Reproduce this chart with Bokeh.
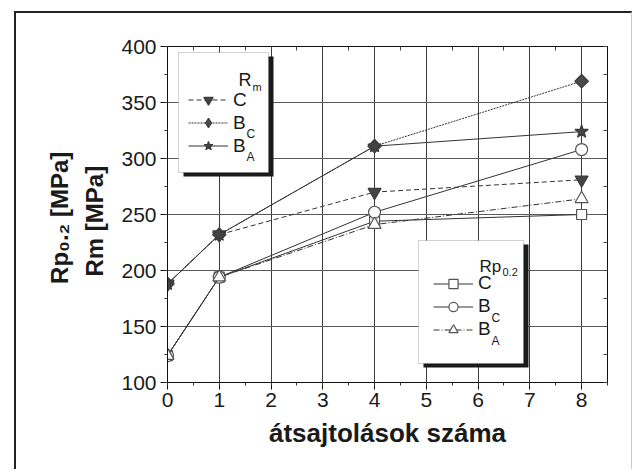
import math
import numpy as np
from bokeh.plotting import figure
from bokeh.models import (Range1d, SingleIntervalTicker, FixedTicker, LinearAxis, Legend,
                          LegendItem, Label, BoxAnnotation, InlineStyleSheet)
from bokeh.embed import file_html
from bokeh.resources import INLINE

# ---- data ----
passes = [0, 1, 4, 8]
rm_c = [188, 232, 270, 281]
rm_bc = [188, 232, 311, 369]
rm_ba = [188, 232, 311, 324]
rp_c = [124, 194, 244, 250]
rp_bc = [124, 194, 252, 308]
rp_ba = [124, 194, 241, 264]

x_title = "átsajtolások száma"
y_title_rm = "Rm [MPa]"
y_title_rp = "Rp\u2080.\u2082 [MPa]"
rm_title = ("R", "m")
rp_title = ("Rp", "0.2")
series_labels = ["C", "B", "B"]
series_subs = [None, "C", "A"]

X_MIN, X_MAX = 0, 8.5
Y_MIN, Y_MAX = 100, 400
x_minor = list(np.arange(X_MIN, X_MAX + 0.01, 0.5))
y_minor = list(np.arange(Y_MIN, Y_MAX + 0.01, 25))

FONT = "Liberation Sans"
INK = "#1a1a1a"
LINE = "#333333"

p = figure(width=621, height=456, output_backend="svg", toolbar_location=None,
           x_range=Range1d(X_MIN, X_MAX), y_range=Range1d(Y_MIN, Y_MAX),
           min_border_left=167, min_border_right=14, min_border_top=46, min_border_bottom=74,
           background_fill_color="white", border_fill_color="white")

p.outline_line_color = "#111111"
p.outline_line_width = 1

# axes
xax = p.xaxis[0]
yax = p.yaxis[0]
xax.ticker = SingleIntervalTicker(interval=1, num_minor_ticks=2)
yax.ticker = SingleIntervalTicker(interval=50, num_minor_ticks=2)
for ax in (xax, yax):
    ax.axis_line_color = "#111111"
    ax.major_tick_line_color = "#111111"
    ax.minor_tick_line_color = "#333333"
    ax.major_tick_out = 7
    ax.major_tick_in = 0
    ax.minor_tick_out = 3
    ax.minor_tick_in = 0
    ax.major_label_text_font = FONT
    ax.major_label_text_font_size = "21px"
    ax.major_label_text_color = INK
    ax.axis_label_text_font = FONT
    ax.axis_label_text_font_style = "bold"
    ax.axis_label_text_color = INK
xax.major_label_standoff = 3
yax.major_label_standoff = 4

xax.axis_label = x_title
xax.axis_label_text_font_size = "26px"
xax.axis_label_standoff = 8

yax.axis_label = y_title_rm + "\u00a0\u00a0"
yax.axis_label_text_font_size = "24px"
yax.axis_label_standoff = 10

outer_y = LinearAxis(axis_label=y_title_rp + "\u00a0", ticker=FixedTicker(ticks=[]))
outer_y.axis_line_alpha = 0
outer_y.major_tick_out = 0
outer_y.major_tick_in = 0
outer_y.minor_tick_out = 0
outer_y.major_label_standoff = 0
outer_y.axis_label_standoff = 6
outer_y.axis_label_text_font = FONT
outer_y.axis_label_text_font_style = "bold"
outer_y.axis_label_text_font_size = "24px"
outer_y.axis_label_text_color = INK
p.add_layout(outer_y, "left")

# mirrored frame ticks (inward, no labels)
top_ax = LinearAxis(ticker=FixedTicker(ticks=[], minor_ticks=x_minor))
right_ax = LinearAxis(ticker=FixedTicker(ticks=[], minor_ticks=y_minor))
for ax in (top_ax, right_ax):
    ax.axis_line_color = "#111111"
    ax.major_tick_in = 0
    ax.major_tick_out = 0
    ax.minor_tick_in = 4
    ax.minor_tick_out = 0
    ax.minor_tick_line_color = "#444444"
    ax.major_label_standoff = 0
p.add_layout(top_ax, "above")
p.add_layout(right_ax, "right")

# grid
p.xgrid.ticker = SingleIntervalTicker(interval=1)
p.ygrid.ticker = SingleIntervalTicker(interval=50)
p.xgrid.grid_line_color = "#3a3a3a"
p.ygrid.grid_line_color = "#5a5a5a"
p.xgrid.grid_line_width = 1
p.ygrid.grid_line_width = 1

# ---- series ----
def series(y, dash, marker, size, fill, angle=0.0, legend_marker=None, legend_size=None):
    ln = p.line(passes, y, line_color=LINE, line_width=1, line_dash=dash)
    edge = "#3c3c3c" if fill != "white" else "#555555"
    sc = p.scatter(passes, y, marker=marker, size=size, angle=angle, fill_color=fill,
                   line_color=edge, line_width=1.2)
    if legend_marker:
        # legend-only sample for the rotated marker (a single non-drawn NaN point)
        key = p.scatter([math.nan], [math.nan], marker=legend_marker, size=legend_size,
                        fill_color=fill, line_color=edge, line_width=1.2)
        return ln, key
    return ln, sc

rm_r = [
    series(rm_c, "5 3", "inverted_triangle", 13, "#444444"),
    series(rm_bc, "2 1", "square", 9.5, "#4a4a4a", angle=math.pi / 4,
           legend_marker="diamond", legend_size=14),
    series(rm_ba, "solid", "star", 14, "#444444"),
]
rp_r = [
    series(rp_c, "solid", "square", 10, "white"),
    series(rp_bc, "solid", "circle", 12, "white"),
    series(rp_ba, "6 2 1 2", "triangle", 13, "white"),
]

# ---- legend boxes (screen units relative to the frame) ----
def legend_box(left, right, top, bottom):
    shadow = BoxAnnotation(left=left + 5, right=right + 5, top=top - 4, bottom=bottom - 4,
                           left_units="screen", right_units="screen",
                           top_units="screen", bottom_units="screen",
                           fill_color="#1a1a1a", fill_alpha=1, line_alpha=0)
    box = BoxAnnotation(left=left, right=right, top=top, bottom=bottom,
                        left_units="screen", right_units="screen",
                        top_units="screen", bottom_units="screen",
                        fill_color="white", fill_alpha=1, line_color="#666666", line_width=1)
    p.add_layout(shadow)
    p.add_layout(box)

legend_box(11, 101, 330, 210)
legend_box(251, 356, 142, 19)

ROW_H = 23

def make_legend(renders, loc):
    items = [LegendItem(label=lab, renderers=[ln, sc]) for lab, (ln, sc) in zip(series_labels, renders)]
    leg = Legend(items=items, location=loc, padding=0, margin=0, spacing=0,
                 glyph_width=40, glyph_height=ROW_H, label_height=ROW_H, label_standoff=5,
                 label_text_font=FONT, label_text_font_size="19px", label_text_color=INK,
                 border_line_alpha=0, background_fill_alpha=0)
    p.add_layout(leg)

RM_LOC = (21, 225)
RP_LOC = (266, 41.5)
make_legend(rm_r, RM_LOC)
make_legend(rp_r, RP_LOC)

def lab(text, x, y, size, bold=False, align="left"):
    p.add_layout(Label(x=x, y=y, x_units="screen", y_units="screen", text=text,
                       text_font=FONT, text_font_size=f"{size}px", text_color=INK,
                       text_font_style="bold" if bold else "normal",
                       text_align=align, text_baseline="alphabetic"))

# legend titles
lab(rm_title[0], 71, 303, 18)
lab(rm_title[1], 85, 296, 11)
lab(rp_title[0], 312, 116, 17)
lab(rp_title[1], 335, 111, 11)

# legend subscripts (row centres measured from the legend's bottom edge)
for i, sub in enumerate(series_subs):
    if not sub:
        continue
    rm_center = RM_LOC[1] + ROW_H * (len(series_subs) - i) - ROW_H / 2
    rp_center = RP_LOC[1] + ROW_H * (len(series_subs) - i) - ROW_H / 2
    lab(sub, 79, rm_center - 11, 12)
    lab(sub, 324, rp_center - 11, 12)

# outer frame of the scanned picture (drawn by CSS around the canvas)
p.stylesheets = [InlineStyleSheet(css=(
    ":host::after { content: ''; position: absolute; left: 14px; top: 11px; "
    "width: 618px; height: 458px; box-sizing: border-box; pointer-events: none; "
    "border-left: 2px solid #222; border-top: 2px solid #222; border-right: 1px solid #c8c8c8; }"
))]

open("out.html", "w").write(file_html(p, INLINE))
